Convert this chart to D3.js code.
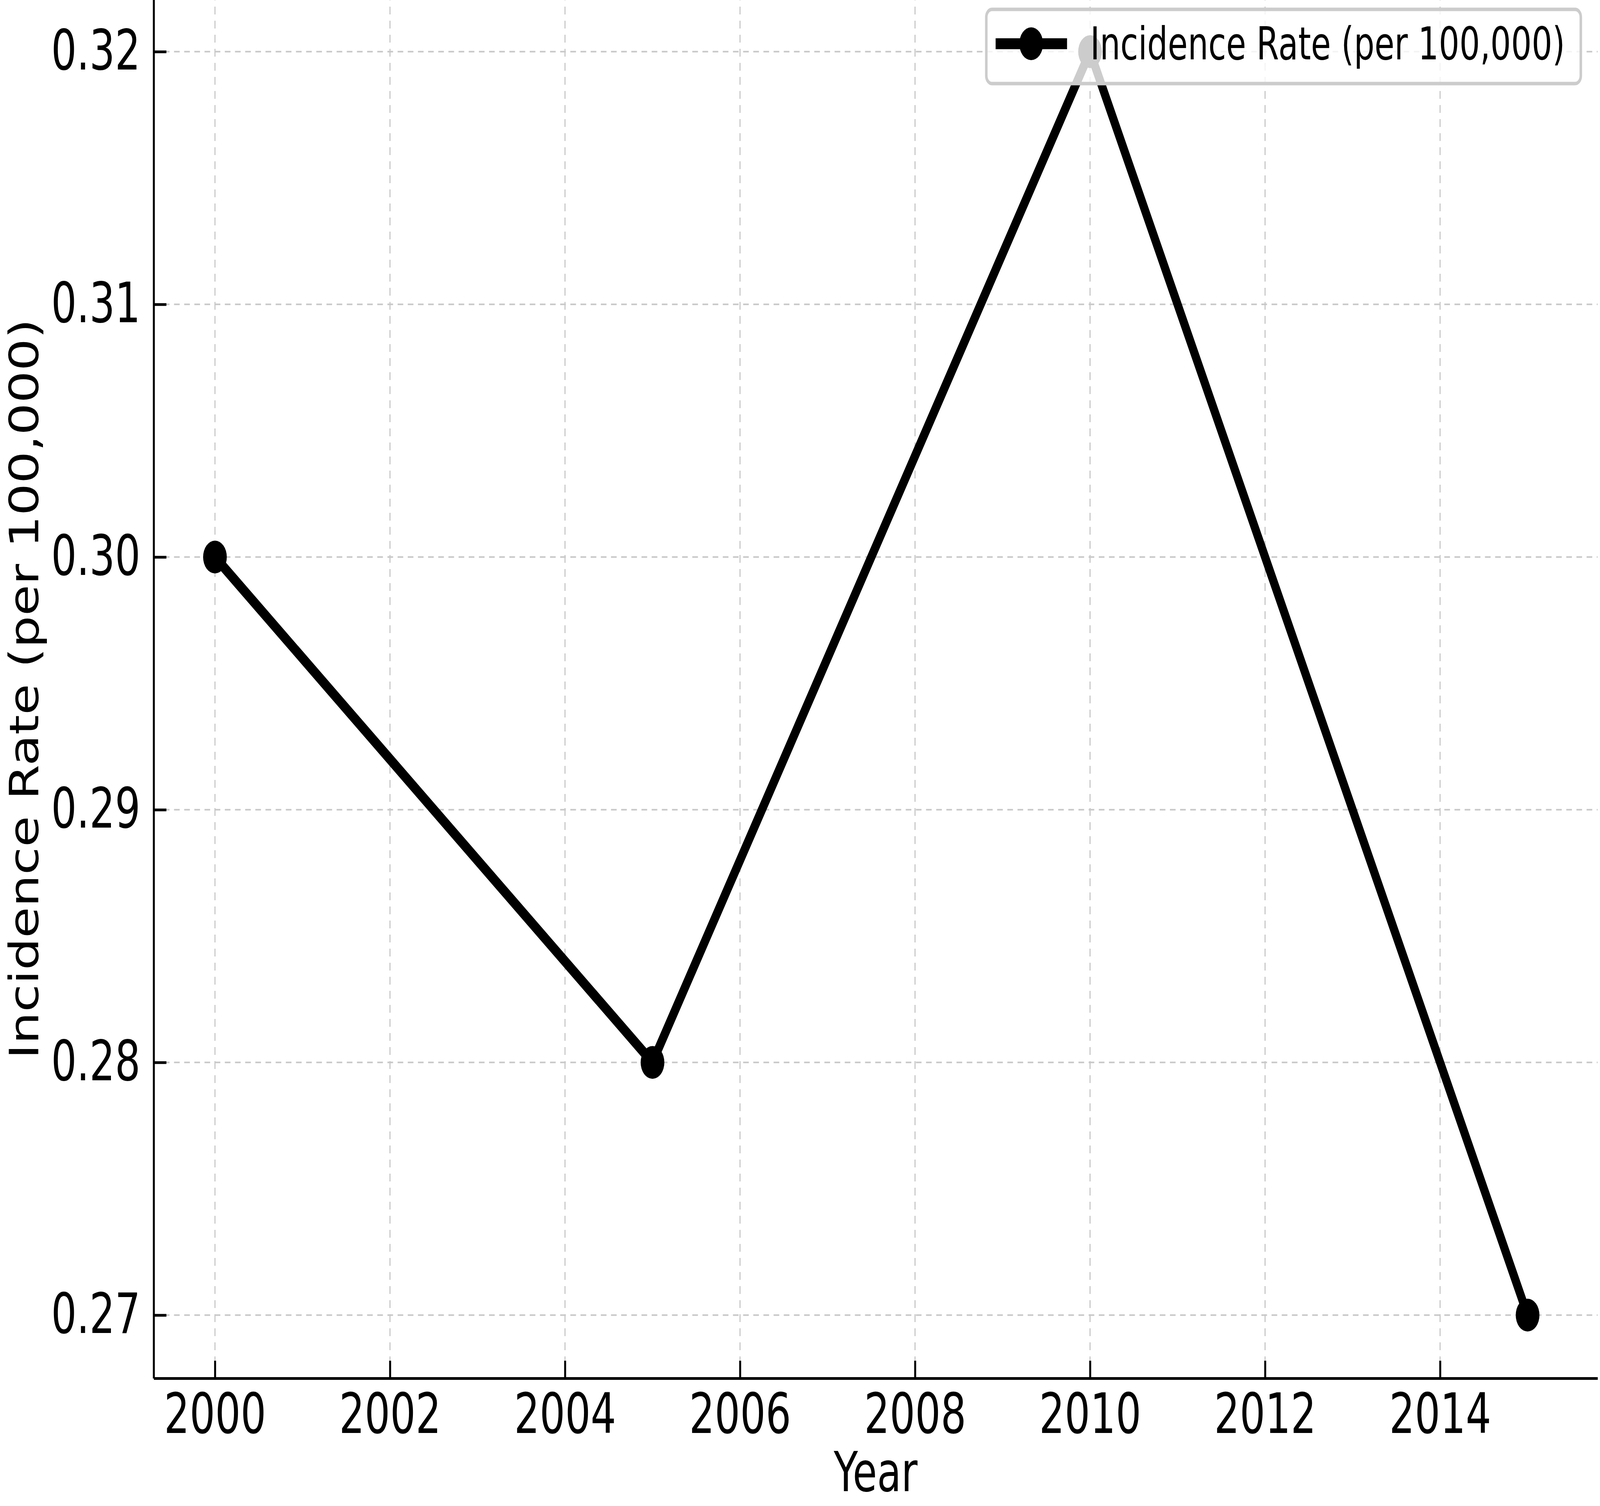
<!DOCTYPE html>
<html>
<head>
<meta charset="utf-8">
<script src="https://cdn.jsdelivr.net/npm/d3@7"></script>
<style>
  html, body { margin: 0; padding: 0; background: #fff; overflow: hidden; }
  #chart { width: 100vw; height: 100vh; }
  svg { display: block; width: 100vw; height: 100vh; font-family: "DejaVu Sans", sans-serif; }
</style>
</head>
<body>
<div id="chart"></div>
<script>
// data
var years = [2000, 2005, 2010, 2015];
var rates = [0.30, 0.28, 0.32, 0.27];
var xTickValues = [2000, 2002, 2004, 2006, 2008, 2010, 2012, 2014];
var yTickValues = [0.27, 0.28, 0.29, 0.30, 0.31, 0.32];
var seriesName = "Incidence Rate (per 100,000)";
var xLabel = "Year";
var yLabel = "Incidence Rate (per 100,000)";

// drawing is done in the reference's pixel space, the viewBox maps it onto the window
var W = 5668, H = 3856;

var x = d3.scaleLinear()
    .domain([1999.3, 2015.8])
    .range([544.5, 5659.5]);

var y = d3.scaleLinear()
    .domain([0.2675, 0.3225])
    .range([3529, -29.5]);

var svg = d3.select("#chart")
    .append("svg")
    .attr("viewBox", "0 0 " + W + " " + H)
    .attr("preserveAspectRatio", "none");

svg.append("rect").attr("width", W).attr("height", H).attr("fill", "#fff");

//
// grid
//
var grid = svg.append("g").attr("class", "grid")
    .attr("stroke", "#c8c8c8")
    .attr("stroke-width", 4)
    .attr("stroke-dasharray", "20,16");

grid.selectAll("line.gx")
  .data(xTickValues)
  .enter().append("line")
    .attr("class", "gx")
    .attr("x1", function(d){ return x(d); })
    .attr("x2", function(d){ return x(d); })
    .attr("y1", y.range()[0])
    .attr("y2", y.range()[1]);

grid.selectAll("line.gy")
  .data(yTickValues)
  .enter().append("line")
    .attr("class", "gy")
    .attr("x1", x.range()[0])
    .attr("x2", x.range()[1])
    .attr("y1", function(d){ return y(d); })
    .attr("y2", function(d){ return y(d); });

//
// axes
//
var xAxis = svg.append("g")
    .attr("transform", "translate(0," + y.range()[0] + ")")
    .call(d3.axisBottom(x)
      .tickValues(xTickValues)
      .tickFormat(d3.format("d"))
      .tickSizeInner(-45)
      .tickSizeOuter(0)
      .tickPadding(39));

var yAxis = svg.append("g")
    .attr("transform", "translate(" + x.range()[0] + ",0)")
    .call(d3.axisLeft(y)
      .tickValues(yTickValues)
      .tickFormat(d3.format(".2f"))
      .tickSizeInner(-45)
      .tickSizeOuter(0)
      .tickPadding(47));

[xAxis, yAxis].forEach(function(a){
  a.select(".domain").attr("stroke", "#000").attr("stroke-width", 7);
  a.selectAll(".tick line").attr("stroke", "#000").attr("stroke-width", 7);
  a.selectAll(".tick text")
    .attr("fill", "#000")
    .style("font-family", "DejaVu Sans")
    .style("font-size", "142px");
});

// axis titles
svg.append("text")
    .attr("x", (x.range()[0] + x.range()[1]) / 2)
    .attr("y", 3818)
    .attr("text-anchor", "middle")
    .style("font-size", "140px")
    .text(xLabel);

svg.append("text")
    .attr("transform", "translate(136,1764) rotate(-90)")
    .attr("text-anchor", "middle")
    .attr("textLength", 1895)
    .attr("lengthAdjust", "spacingAndGlyphs")
    .style("font-size", "142px")
    .text(yLabel);

//
// series
//
var points = years.map(function(d, i){ return {year: d, rate: rates[i]}; });

var line = d3.line()
    .x(function(d){ return x(d.year); })
    .y(function(d){ return y(d.rate); });

svg.append("path")
    .datum(points)
    .attr("fill", "none")
    .attr("stroke", "#000")
    .attr("stroke-width", 28)
    .attr("stroke-linejoin", "round")
    .attr("d", line);

svg.selectAll("circle.pt")
  .data(points)
  .enter().append("circle")
    .attr("class", "pt")
    .attr("cx", function(d){ return x(d.year); })
    .attr("cy", function(d){ return y(d.rate); })
    .attr("r", 42)
    .attr("fill", "#000");

//
// legend (semi-transparent, drawn over the data)
//
var legend = svg.append("g").attr("class", "legend");
legend.append("rect")
    .attr("x", 3494).attr("y", 24)
    .attr("width", 2106).attr("height", 190)
    .attr("rx", 20).attr("ry", 20)
    .attr("fill", "#fff")
    .attr("fill-opacity", 0.8)
    .attr("stroke", "#cccccc")
    .attr("stroke-width", 9);
legend.append("line")
    .attr("x1", 3527).attr("x2", 3780)
    .attr("y1", 112).attr("y2", 112)
    .attr("stroke", "#000")
    .attr("stroke-width", 28);
legend.append("circle")
    .attr("cx", 3653).attr("cy", 112).attr("r", 42)
    .attr("fill", "#000");
legend.append("text")
    .attr("x", 3862).attr("y", 152)
    .style("font-size", "115px")
    .text(seriesName);
</script>
</body>
</html>
